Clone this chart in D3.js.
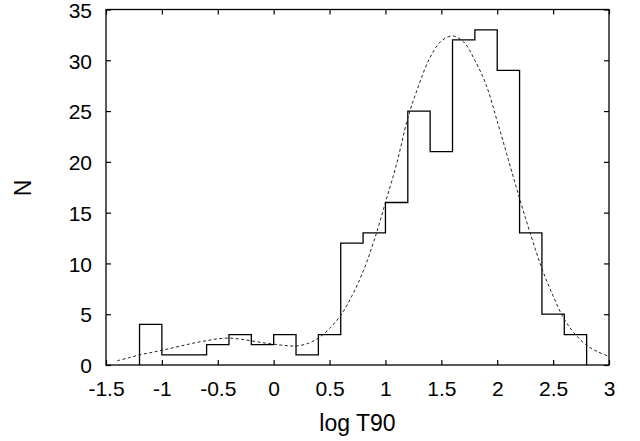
<!DOCTYPE html>
<html>
<head>
<meta charset="utf-8">
<script src="https://cdn.jsdelivr.net/npm/d3@7"></script>
<style>
  html, body { margin: 0; padding: 0; background: #fff; }
  svg { display: block; }
  text { font-family: "Liberation Sans", Arial, Helvetica, sans-serif; fill: #000; }
</style>
</head>
<body>
<svg id="chart" width="640" height="441"></svg>
<script>
// ---- data ----
const binStarts = [-1.2, -1.0, -0.8, -0.6, -0.4, -0.2, 0.0, 0.2, 0.4, 0.6, 0.8, 1.0, 1.2, 1.4, 1.6, 1.8, 2.0, 2.2, 2.4, 2.6];
const binWidth = 0.2;
const counts = [4, 1, 1, 2, 3, 2, 3, 1, 3, 12, 13, 16, 25, 21, 32, 33, 29, 13, 5, 3];

// dashed fit curve
const fitX = [-1.4, -1.3, -1.2, -1.1, -1.0, -0.9, -0.8, -0.7, -0.6, -0.5, -0.4, -0.3, -0.2, -0.1, 0.0, 0.1, 0.2, 0.3, 0.4, 0.5, 0.6, 0.7, 0.8, 0.9, 1.0, 1.1, 1.2, 1.3, 1.4, 1.5, 1.6, 1.7, 1.8, 1.9, 2.0, 2.1, 2.2, 2.3, 2.4, 2.5, 2.6, 2.7, 2.8, 2.9, 3.0];
const fitY = [0.42, 0.7, 1.0, 1.22, 1.45, 1.7, 1.95, 2.2, 2.4, 2.58, 2.65, 2.55, 2.38, 2.2, 2.05, 1.92, 1.87, 2.1, 2.65, 3.6, 4.9, 6.8, 9.2, 12.3, 16.0, 19.8, 24.3, 27.6, 30.3, 31.9, 32.4, 31.8, 30.0, 27.6, 24.0, 20.2, 16.4, 12.8, 9.5, 6.8, 4.5, 3.0, 1.95, 1.3, 0.85];

const xTicks = [-1.5, -1, -0.5, 0, 0.5, 1, 1.5, 2, 2.5, 3];
const xTickLabels = ["-1.5", "-1", "-0.5", "0", "0.5", "1", "1.5", "2", "2.5", "3"];
const yTicks = [0, 5, 10, 15, 20, 25, 30, 35];
const yTickLabels = ["0", "5", "10", "15", "20", "25", "30", "35"];
const xTitle = "log T90";
const yTitle = "N";

// ---- layout ----
const L = 106, R = 609, T = 9.5, B = 365;
const svg = d3.select("#chart");
const x = d3.scaleLinear().domain([-1.5, 3]).range([L, R]);
const y = d3.scaleLinear().domain([0, 35]).range([B, T]);
const tickLen = 5, fontSize = 21;

// axes (ticks inward)
const gB = svg.append("g").attr("transform", `translate(0,${B})`)
  .call(d3.axisBottom(x).tickValues(xTicks).tickSize(-tickLen).tickPadding(16)
    .tickFormat((d, i) => xTickLabels[i]));
const gT = svg.append("g").attr("transform", `translate(0,${T})`)
  .call(d3.axisTop(x).tickValues(xTicks).tickSize(-tickLen).tickFormat(""));
const gL = svg.append("g").attr("transform", `translate(${L},0)`)
  .call(d3.axisLeft(y).tickValues(yTicks).tickSize(-tickLen).tickPadding(14)
    .tickFormat((d, i) => yTickLabels[i]));
const gR = svg.append("g").attr("transform", `translate(${R},0)`)
  .call(d3.axisRight(y).tickValues(yTicks).tickSize(-tickLen).tickFormat(""));
[gB, gT, gL, gR].forEach(g => {
  g.select(".domain").remove();
  g.selectAll(".tick line").attr("stroke", "#000").attr("stroke-width", 1.2);
  g.selectAll(".tick text").attr("font-size", fontSize)
    .attr("font-family", "'Liberation Sans', Arial, sans-serif").attr("fill", "#000");
});
gL.selectAll(".tick text").attr("dy", "0.37em");

// histogram step outline
const pts = [[binStarts[0], 0]];
counts.forEach((c, i) => {
  pts.push([binStarts[i], c]);
  pts.push([binStarts[i] + binWidth, c]);
});
pts.push([binStarts[binStarts.length - 1] + binWidth, 0]);
svg.append("path")
  .attr("d", d3.line().x(d => x(d[0])).y(d => y(d[1]))(pts))
  .attr("fill", "none").attr("stroke", "#000").attr("stroke-width", 1.3);

// fit curve
svg.append("path")
  .attr("d", d3.line().x((d, i) => x(fitX[i])).y(d => y(d)).curve(d3.curveCatmullRom)(fitY))
  .attr("fill", "none").attr("stroke", "#222").attr("stroke-width", 1)
  .attr("stroke-dasharray", "3,2.5");

// frame
svg.append("rect").attr("x", L).attr("y", T).attr("width", R - L).attr("height", B - T)
  .attr("fill", "none").attr("stroke", "#000").attr("stroke-width", 1.3);

// titles
svg.append("text").attr("x", (L + R) / 2).attr("y", 431).attr("text-anchor", "middle")
  .attr("font-size", 23).text(xTitle);
svg.append("text").attr("transform", "translate(31,188) rotate(-90)").attr("text-anchor", "middle")
  .attr("font-size", 23).text(yTitle);
</script>
</body>
</html>
